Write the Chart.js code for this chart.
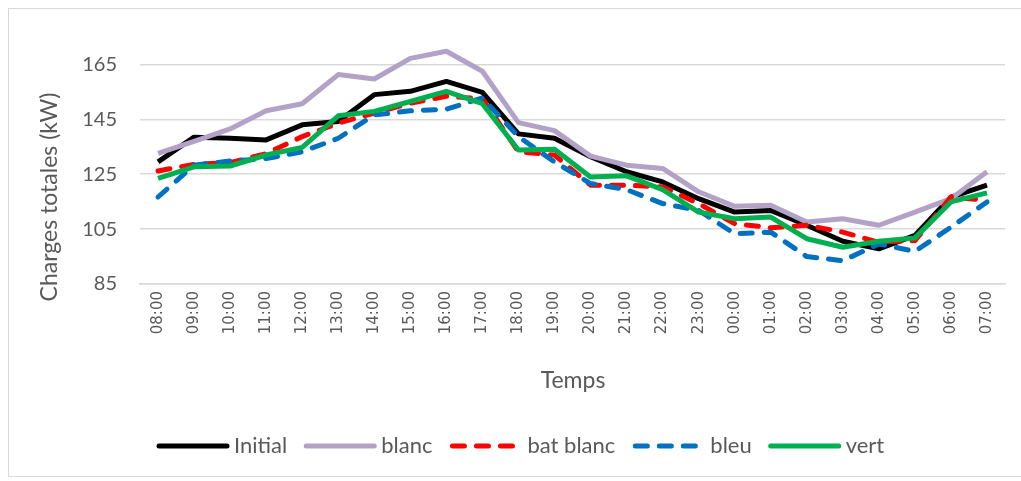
<!DOCTYPE html>
<html>
<head>
<meta charset="utf-8">
<script src="https://cdn.jsdelivr.net/npm/chart.js@4/dist/chart.umd.min.js"></script>
<style>
  html, body { margin: 0; padding: 0; background: #fff; }
  #wrap { width: 1021px; height: 481px; position: relative; }
</style>
</head>
<body>
<div id="wrap"><canvas id="myChart" width="1021" height="481"></canvas></div>
<script>
const heures = ['08:00', '09:00', '10:00', '11:00', '12:00', '13:00', '14:00', '15:00', '16:00', '17:00', '18:00', '19:00',
  '20:00', '21:00', '22:00', '23:00', '00:00', '01:00', '02:00', '03:00', '04:00', '05:00', '06:00', '07:00']

const initial = [129.5, 138.5, 138.1, 137.5, 143, 144.2, 154, 155.2, 158.8, 154.8, 139.7, 138.1,
  131.4, 125.9, 122.2, 116.1, 111.2, 111.8, 106.4, 100.6, 97.8, 102.7, 116.7, 121]
const blanc = [132.6, 137, 141.5, 148.1, 150.7, 161.3, 159.7, 167.2, 169.8, 162.5, 143.8, 140.9,
  131.6, 128.3, 127.1, 118.6, 113.3, 113.7, 107.6, 108.8, 106.4, 111.2, 116.1, 125.9]
const batBlanc = [126.2, 128.6, 129.2, 132.5, 138.7, 143.6, 147.3, 150.9, 153.4, 152.5, 133.2, 132,
  121, 121, 120.4, 114.3, 107, 105.5, 106.4, 103.9, 100.2, 100.8, 116.7, 115.5]
const bleu = [116.7, 128.3, 129.8, 130.7, 133.2, 138.1, 146.6, 148.1, 148.7, 152.8, 138.7, 129.5,
  121.6, 119.4, 114.3, 111.8, 103.3, 103.9, 95, 93.5, 99.6, 96.9, 105.7, 114.9]
const vert = [123.5, 127.7, 128, 132, 134.8, 146.3, 147.9, 151.5, 155.2, 150.7, 133.8, 134.1,
  124, 124.4, 119.4, 111.2, 108.8, 109.4, 101.5, 98.4, 100.6, 101.8, 114.9, 118.2]

const yTicks = [85, 105, 125, 145, 165]

const gris = '#595959'
const grille = '#d9d9d9'
const tiret = [12, 12]

function serie (label, data, color, order, dash) {
  return {
    label,
    data,
    borderColor: color,
    backgroundColor: color,
    borderWidth: 5,
    borderDash: dash || [],
    borderCapStyle: dash ? 'round' : 'butt',
    borderJoinStyle: 'round',
    pointRadius: 0,
    tension: 0,
    order
  }
}

// cadre gris autour du graphique
const cadre = {
  id: 'cadre',
  beforeDraw (chart) {
    const ctx = chart.ctx
    ctx.save()
    ctx.strokeStyle = grille
    ctx.lineWidth = 1
    ctx.strokeRect(8.5, 8.5, 1030, 468)
    ctx.restore()
  }
}

// titres des axes et légende
const textes = {
  id: 'textes',
  afterDraw (chart) {
    const ctx = chart.ctx
    ctx.save()
    ctx.fillStyle = gris
    ctx.font = '23px Lato'
    ctx.textAlign = 'center'
    ctx.textBaseline = 'middle'
    ctx.save()
    ctx.translate(50, 197)
    ctx.rotate(-Math.PI / 2)
    ctx.fillText('Charges totales (kW)', 0, 0)
    ctx.restore()
    ctx.fillText('Temps', 573, 381)

    // légende
    ctx.font = '22px Lato'
    ctx.textAlign = 'left'
    let x = 157
    const y = 446
    chart.data.datasets.forEach((ds) => {
      ctx.save()
      ctx.strokeStyle = ds.borderColor
      ctx.lineWidth = 5
      ctx.lineCap = 'round'
      ctx.setLineDash(ds.borderDash.length ? ds.borderDash : [])
      ctx.beginPath()
      if (ds.borderDash.length) {
        ctx.moveTo(x + 3, y)
        ctx.lineTo(x + 69, y)
      } else {
        ctx.moveTo(x + 2, y)
        ctx.lineTo(x + 70, y)
      }
      ctx.stroke()
      ctx.restore()
      const tx = x + (ds.borderDash.length ? 78 : 77)
      ctx.fillText(ds.label, tx, y)
      x = tx + ctx.measureText(ds.label).width + 17
    })
    ctx.restore()
  }
}

const config = {
  type: 'line',
  data: {
    labels: heures,
    datasets: [
      serie('Initial', initial, '#000000', 4),
      serie('blanc', blanc, '#b3a2c7', 3),
      serie('bat blanc', batBlanc, '#ff0000', 2, tiret),
      serie('bleu', bleu, '#0070c0', 1, tiret),
      serie('vert', vert, '#00b050', 0)
    ]
  },
  options: {
    responsive: false,
    animation: false,
    devicePixelRatio: 1,
    layout: { padding: { left: 0, right: 16, top: 37, bottom: 0 } },
    plugins: {
      legend: { display: false },
      title: { display: false },
      tooltip: { enabled: false }
    },
    scales: {
      x: {
        offset: true,
        grid: { display: false, drawTicks: false },
        border: { display: true, color: grille, width: 1.5 },
        ticks: {
          autoSkip: false,
          minRotation: 90,
          maxRotation: 90,
          padding: 7,
          color: gris,
          font: { family: 'DejaVu Sans', size: 15 }
        },
        afterFit (s) { s.height = 197 }
      },
      y: {
        min: 85,
        max: 175,
        grid: { color: grille, lineWidth: 1.5, drawTicks: false },
        border: { display: false },
        ticks: {
          stepSize: 20,
          padding: 23,
          color: gris,
          font: { family: 'Lato', size: 20 }
        },
        afterBuildTicks (s) { s.ticks = yTicks.map((v) => ({ value: v })) },
        afterFit (s) { s.width = 140 }
      }
    }
  },
  plugins: [cadre, textes]
}

const chart = new Chart(document.getElementById('myChart'), config)
</script>
</body>
</html>
